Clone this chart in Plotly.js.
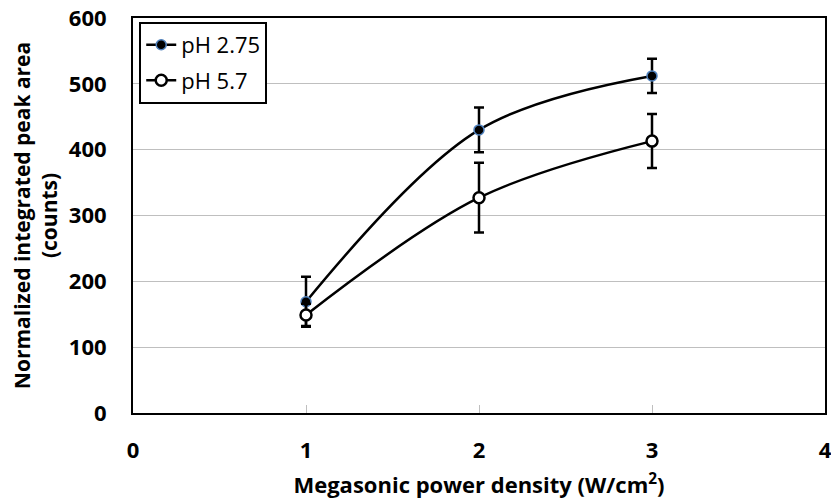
<!DOCTYPE html>
<html><head><meta charset="utf-8">
<script src="https://cdn.plot.ly/plotly-3.0.1.min.js"></script>
<style>body{margin:0;padding:0;background:#fff}#chart{width:831px;height:499px}</style>
</head><body><div id="chart"></div>
<script>
const powerDensity = [1, 2, 3];
const pH275 = [169, 430, 512];
const pH275Err = [38, 34, 26];
const pH57 = [149, 327, 413];
const pH57Err = [17, 53, 41];
const seriesNames = ['pH 2.75', 'pH 5.7'];
const xTicks = [0, 1, 2, 3, 4];
const yTicks = [0, 100, 200, 300, 400, 500, 600];

const fontFam = 'Open Sans, Liberation Sans, sans-serif';
const traces = [
  {
    x: powerDensity, y: pH275, name: seriesNames[0], type: 'scatter', mode: 'lines+markers',
    legendgroup: 'a',
    line: {color: '#000', width: 2.5, shape: 'spline', smoothing: 1},
    marker: {color: '#000', size: 10, line: {color: '#4f81bd', width: 1.5}},
    error_y: {type: 'data', array: pH275Err, visible: true, color: '#000', thickness: 2.5, width: 5}
  },
  {
    x: powerDensity, y: pH57, name: seriesNames[1], type: 'scatter', mode: 'lines+markers',
    legendgroup: 'b',
    line: {color: '#000', width: 2.5, shape: 'spline', smoothing: 1},
    marker: {color: '#fff', size: 11, line: {color: '#000', width: 2.5}},
    error_y: {type: 'data', array: pH57Err, visible: true, color: '#000', thickness: 2.5, width: 5}
  }
];
const layout = {
  width: 831, height: 499,
  margin: {l: 133, r: 6, t: 18, b: 86},
  paper_bgcolor: '#fff', plot_bgcolor: '#fff',
  font: {family: fontFam, color: '#000'},
  showlegend: true,
  legend: {x: 0.009, y: 0.99, xanchor: 'left', yanchor: 'top', bordercolor: '#000', borderwidth: 2,
    bgcolor: '#fff', font: {size: 22, family: fontFam, color: '#000'}, tracegroupgap: 4,
    traceorder: 'grouped', itemwidth: 30},
  xaxis: {
    range: [0, 4], tickvals: xTicks, ticktext: xTicks.map(String),
    showgrid: false, zeroline: false, showline: true, linecolor: '#000', linewidth: 2, mirror: true,
    ticks: 'inside', ticklen: 8, tickcolor: '#bfbfbf', tickwidth: 1,
    ticklabeloverflow: 'allow', ticklabelstandoff: 17,
    tickfont: {size: 22, family: fontFam, weight: 'bold'},
    title: {text: 'Megasonic power density (W/cm<sup>2</sup>)', font: {size: 22, family: fontFam, weight: 'bold'}, standoff: 14}
  },
  yaxis: {
    range: [0, 600], tickvals: yTicks, ticktext: yTicks.map(String),
    showgrid: true, gridcolor: '#bfbfbf', gridwidth: 1, zeroline: false,
    showline: true, linecolor: '#000', linewidth: 2, mirror: true, ticks: '',
    ticklabelstandoff: 20,
    tickfont: {size: 22, family: fontFam, weight: 'bold'},
    title: {text: 'Normalized integrated peak area<br>(counts)', font: {size: 21, family: fontFam, weight: 'bold'}, standoff: 5}
  }
};
Plotly.newPlot('chart', traces, layout, {displayModeBar: false, staticPlot: true});
</script></body></html>
